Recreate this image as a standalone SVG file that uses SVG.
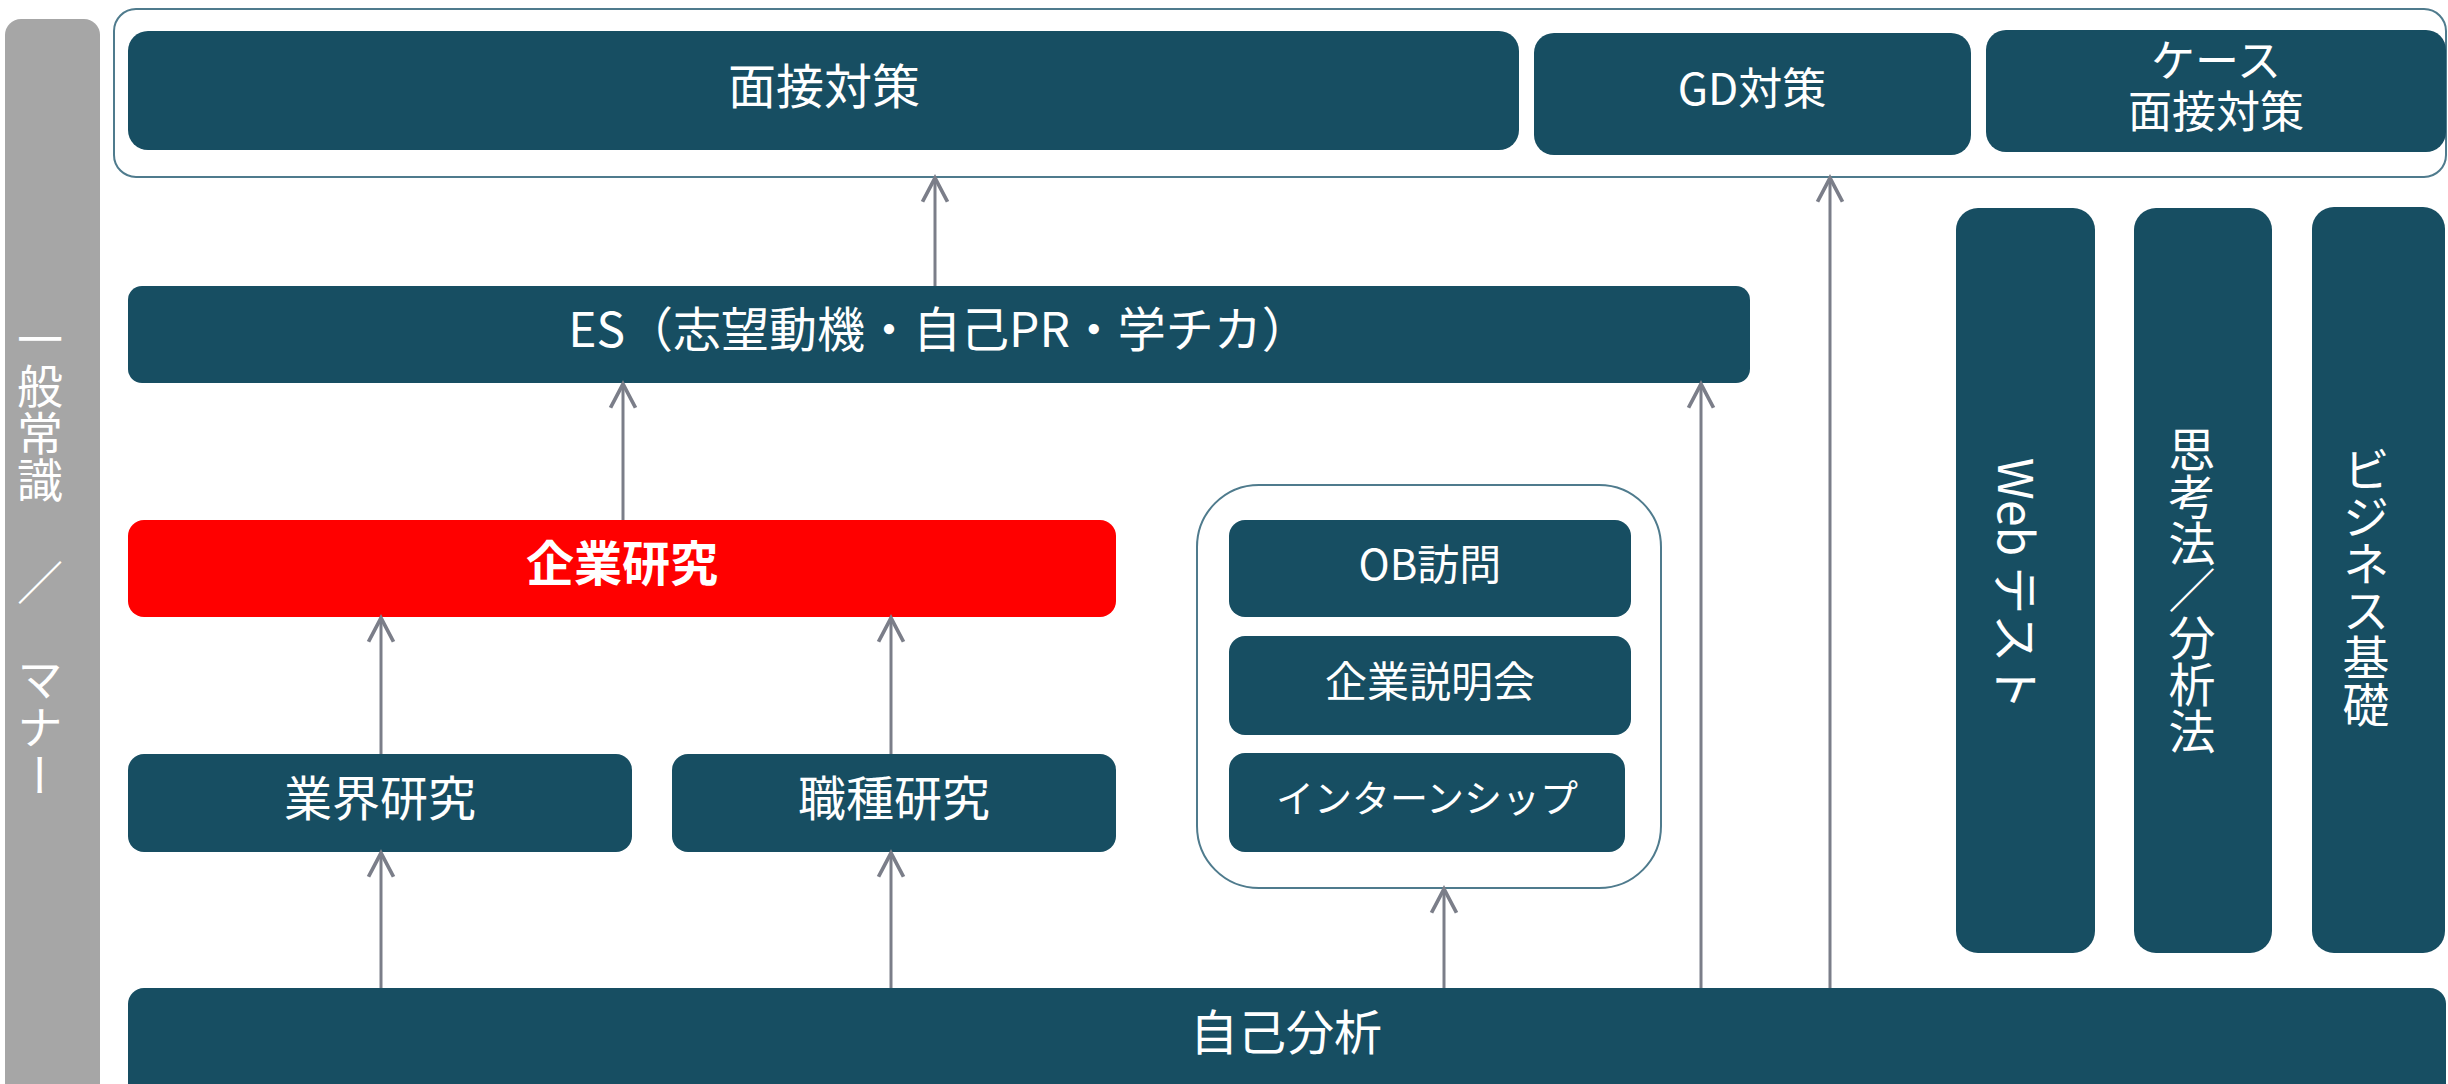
<svg xmlns="http://www.w3.org/2000/svg" width="2448" height="1084" viewBox="0 0 2448 1084">
<style>
.n{fill:#174e62}
.t{fill:#ffffff;font-family:"Noto Sans CJK JP","Noto Sans",sans-serif;text-anchor:middle}
.v{writing-mode:vertical-rl}
.c{stroke:#7b7e89;stroke-width:3;fill:none;marker-end:url(#ah)}
.frame{fill:#ffffff;stroke:#4f7b8d;stroke-width:2}
</style>
<defs>
<marker id="ah" markerUnits="userSpaceOnUse" markerWidth="30" markerHeight="30" viewBox="-22 -12 24 24" refX="0" refY="0" orient="auto" overflow="visible">
<path d="M-19,-10 L0,0 L-19,10" fill="none" stroke="#7b7e89" stroke-width="3" stroke-linejoin="miter"/>
</marker>
</defs>
<rect width="2448" height="1084" fill="#ffffff"/>

<g id="general">
<rect x="5" y="19" width="95" height="1090" rx="16" fill="#a6a6a6"/>
<text class="t v" x="40" y="316" font-size="46" letter-spacing="1" style="text-anchor:start">一般常識</text>
<text class="t v" x="40" y="582" font-size="46">／</text>
<text class="t v" x="40" y="656" font-size="46" letter-spacing="2" style="text-anchor:start">マナー</text>
</g>

<g id="interview-group">
<rect class="frame" x="114" y="9" width="2332" height="168" rx="22"/>
</g>
<g id="mensetsu">
<rect class="n" x="128" y="31" width="1391" height="119" rx="20"/>
<text class="t" x="824" y="104" font-size="48">面接対策</text>
</g>
<g id="gd">
<rect class="n" x="1534" y="33" width="437" height="122" rx="20"/>
<text class="t" x="1752" y="105" font-size="44">GD対策</text>
</g>
<g id="case">
<rect class="n" x="1986" y="30" width="460" height="122" rx="20"/>
<text class="t" font-size="44"><tspan x="2216" y="77">ケース</tspan><tspan x="2216" y="128">面接対策</tspan></text>
</g>

<g id="es">
<rect class="n" x="128" y="286" width="1622" height="97" rx="14"/>
<text class="t" x="939" y="347" font-size="48">ES（志望動機・自己PR・学チカ）</text>
</g>

<g id="kigyo">
<rect x="128" y="520" width="988" height="97" rx="16" fill="#ff0000"/>
<text class="t" x="622" y="581" font-size="48" font-weight="bold">企業研究</text>
</g>

<g id="gyokai">
<rect class="n" x="128" y="754" width="504" height="98" rx="16"/>
<text class="t" x="380" y="816" font-size="48">業界研究</text>
</g>
<g id="shokushu">
<rect class="n" x="672" y="754" width="444" height="98" rx="16"/>
<text class="t" x="894" y="816" font-size="48">職種研究</text>
</g>

<g id="contact-group">
<rect class="frame" x="1197" y="485" width="464" height="403" rx="62"/>
</g>
<g id="ob">
<rect class="n" x="1229" y="520" width="402" height="97" rx="16"/>
<text class="t" x="1430" y="580" font-size="42">OB訪問</text>
</g>
<g id="setsumeikai">
<rect class="n" x="1229" y="636" width="402" height="99" rx="16"/>
<text class="t" x="1430" y="697" font-size="42">企業説明会</text>
</g>
<g id="intern">
<rect class="n" x="1229" y="753" width="396" height="99" rx="16"/>
<text class="t" x="1427" y="812" font-size="38">インターンシップ</text>
</g>

<g id="webtest">
<rect class="n" x="1956" y="208" width="139" height="745" rx="22"/>
<text class="t" font-size="48" dominant-baseline="central" transform="translate(2019,584) rotate(90)">Web<tspan dx="10">テスト</tspan></text>
</g>
<g id="shikoho">
<rect class="n" x="2134" y="208" width="138" height="745" rx="22"/>
<text class="t v" x="2192" y="590" font-size="47">思考法／分析法</text>
</g>
<g id="business">
<rect class="n" x="2312" y="207" width="133" height="746" rx="22"/>
<text class="t v" x="2366" y="587" font-size="47">ビジネス基礎</text>
</g>

<g id="jiko">
<rect class="n" x="128" y="988" width="2318" height="120" rx="16"/>
<text class="t" x="1286" y="1050" font-size="48">自己分析</text>
</g>

<g id="connectors">
<line class="c" x1="381" y1="988" x2="381" y2="853"/>
<line class="c" x1="891" y1="988" x2="891" y2="853"/>
<line class="c" x1="381" y1="754" x2="381" y2="618"/>
<line class="c" x1="891" y1="754" x2="891" y2="618"/>
<line class="c" x1="623" y1="520" x2="623" y2="384"/>
<line class="c" x1="935" y1="286" x2="935" y2="178"/>
<line class="c" x1="1444" y1="988" x2="1444" y2="889"/>
<line class="c" x1="1701" y1="988" x2="1701" y2="384"/>
<line class="c" x1="1830" y1="988" x2="1830" y2="178"/>
</g>
</svg>
